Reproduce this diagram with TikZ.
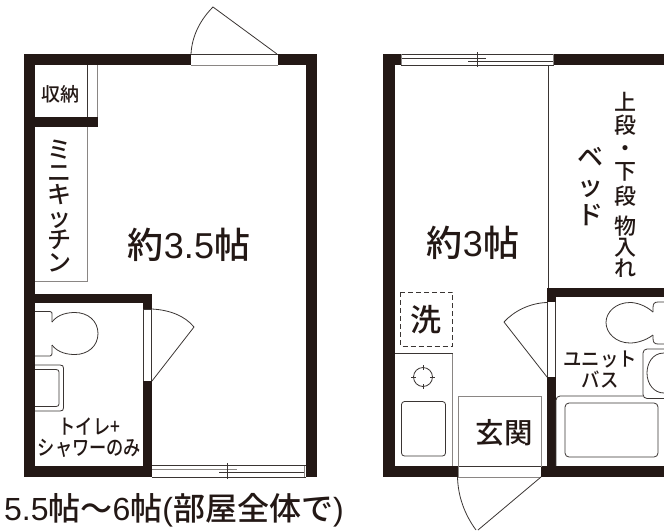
\documentclass[tikz,border=0pt]{standalone}
\usepackage{fontspec}
\setmainfont{Noto Sans CJK JP Medium}
\newfontfamily\lat{Liberation Sans}
\definecolor{wallc}{HTML}{231815}
\definecolor{linec}{HTML}{3A3533}
\definecolor{greyc}{HTML}{8A8684}
\tikzset{
  wall/.style={fill=wallc,draw=none},
  thin line/.style={draw=linec,line width=0.8pt},
  grey line/.style={draw=greyc,line width=1pt},
  dash line/.style={draw=linec,line width=0.8pt,dash pattern=on 5pt off 3pt},
  label/.style={text=wallc,inner sep=0pt,align=center},
}
\begin{document}
\begin{tikzpicture}[x=1pt,y=-1pt]
\useasboundingbox (0,0) rectangle (664,531);
% left unit walls
\fill[wall] (24,54) rectangle (191,65);
\fill[wall] (278,54) rectangle (317,65);
\fill[wall] (24,54) rectangle (35,477);
\fill[wall] (306,54) rectangle (317,477);
\fill[wall] (24,466) rectangle (152,477);
\fill[wall] (35,117) rectangle (98,127);
\fill[wall] (35,294) rectangle (152,303);
\fill[wall] (143,294) rectangle (152,309);
\fill[wall] (143,381) rectangle (152,477);
% top door left
\draw[thin line] (191,54) -- (278,54);
\draw[grey line] (191,65) -- (278,65);
\coordinate (ld1) at (191,54);
\coordinate (ld2) at (213,7);
\coordinate (ld3) at (277,54);
\draw[thin line] (ld1) .. controls (192,35) and (201,19) .. (ld2) -- (ld3);
% storage and kitchen
\draw[thin line] (87,65) -- (87,117);
\draw[grey line] (97.5,65) -- (97.5,117);
\draw[grey line] (87,127) -- (87,281) -- (35,281);
% bath door left
\draw[thin line] (143.5,309) -- (143.5,381);
\draw[thin line] (151.5,309) -- (151.5,381);
\draw[thin line] (143,309) -- (152,309);
\draw[thin line] (152,381) -- (194,327);
\draw[thin line] (152,309) .. controls (170,310) and (185,316) .. (194,327);
% toilet left
\draw[thin line] (35,311.5) -- (50,311.5) .. controls (52,311.5) and (52,313) .. (52,314) -- (52,322);
\draw[thin line] (35,356) -- (50,356) .. controls (52,356) and (52,354) .. (52,353) -- (52,345);
\draw[thin line] (52,322) .. controls (58,314) and (68,312.5) .. (75,312.5) .. controls (88,312.5) and (98,321) .. (98,333.5) .. controls (98,346) and (88,354.5) .. (75,354.5) .. controls (68,354.5) and (58,353) .. (52,345);
% shower pan left
\draw[thin line] (35,365) -- (60,365) .. controls (62.5,365) and (63.5,366) .. (63.5,368) -- (63.5,408) .. controls (63.5,410) and (62.5,411) .. (60,411) -- (35,411);
\draw[thin line] (35,369.5) -- (56,369.5) .. controls (58,369.5) and (59,370.5) .. (59,372) -- (59,404) .. controls (59,405.5) and (58,406.5) .. (56,406.5) -- (35,406.5);
% left window
\draw[thin line] (152,465.5) -- (306,465.5);
\draw[grey line] (152,469.3) -- (237,469.3);
\draw[thin line] (219,472.7) -- (305,472.7);
\draw[thin line] (152,477) -- (306,477);
\draw[grey line] (304.5,466) -- (304.5,477);
\draw[thin line] (227.7,463) -- (227.7,479);
% right unit walls
\fill[wall] (383,54) rectangle (401,65);
\fill[wall] (554,54) rectangle (664,65);
\fill[wall] (383,54) rectangle (395,477);
\fill[wall] (383,466) rectangle (458,477);
\fill[wall] (541,466) rectangle (664,477);
\fill[wall] (547,288) rectangle (664,297);
\fill[wall] (547,288) rectangle (556,302);
\fill[wall] (547,377) rectangle (556,477);
% right window
\draw[thin line] (401,54) -- (554,54);
\draw[thin line] (401,58.3) -- (486,58.3);
\draw[thin line] (468,61) -- (554,61);
\draw[thin line] (401,65) -- (554,65);
\draw[grey line] (401.5,54) -- (401.5,65);
\draw[grey line] (553.5,54) -- (553.5,65);
\draw[thin line] (477,52) -- (477,67);
% bed partition
\draw[thin line] (548.7,65) -- (548.7,288);
% bath door right
\draw[thin line] (547.5,302) -- (547.5,377);
\draw[thin line] (555.5,302) -- (555.5,377);
\draw[thin line] (547,377) -- (504,322);
\draw[thin line] (547,302.5) .. controls (530,303) and (514,311) .. (504,322);
% washer
\draw[dash line] (400.5,292) rectangle (452.5,346);
% kitchen right
\draw[thin line] (395,353.5) -- (452.5,353.5);
\draw[grey line] (452.5,353.5) -- (452.5,466);
\node[draw=linec,line width=0.8pt,circle,minimum size=19pt,inner sep=0pt] (burner) at (423,377) {};
\draw[thin line] (423,365) -- (423,370);
\draw[thin line] (423,384) -- (423,389);
\draw[thin line] (411,377) -- (416,377);
\draw[thin line] (430,377) -- (435,377);
\draw[thin line,rounded corners=3pt] (401.5,401.5) rectangle (445.5,456);
% genkan
\draw[grey line] (458.5,396.5) rectangle (541,466);
\draw[thin line] (458,466.5) -- (541,466.5);
\draw[grey line] (458,477) -- (541,477);
\draw[grey line] (458.5,466) -- (458.5,477);
% entrance door
\coordinate (rd1) at (541,477);
\coordinate (rd2) at (478,530);
\draw[thin line] (rd1) -- (rd2);
\draw[thin line] (457.5,477) .. controls (458,497) and (465,515) .. (476,530);
% unit bath
\draw[thin line,rounded corners=4pt] (643,396) -- (556,396) -- (556,466);
\draw[thin line,rounded corners=4pt] (565,403) rectangle (658,457);
\draw[thin line,rounded corners=4pt] (664,349) -- (643,349) -- (643,398.5) -- (664,398.5);
\draw[thin line] (664,353) .. controls (652,353) and (647,364) .. (647,373) .. controls (647,384) and (654,393) .. (664,393);
\draw[thin line] (664,302) -- (658,302) .. controls (654,302) and (653,304) .. (653,308) -- (653,312);
\draw[thin line] (664,344) -- (658,344) .. controls (654,344) and (653,342) .. (653,338) -- (653,335);
\draw[thin line] (653,312) .. controls (645,305) and (636,302.5) .. (630,302.5) .. controls (616,302.5) and (606,312) .. (606,322.5) .. controls (606,333) and (616,343) .. (630,343) .. controls (636,343) and (645,341) .. (653,335);
% labels
\node[label,font=\fontsize{19}{19}\selectfont] (lstore) at (60,94) {収納};
\node[label,font=\fontsize{24}{22.5}\selectfont] (lkit) at (59,206) {ミ\\ニ\\キ\\ッ\\チ\\ン};
\node[label,font=\fontsize{36}{36}\selectfont] (lroom) at (189,245) {約{\lat 3.5}帖};
\node[label,font=\fontsize{21}{21}\selectfont,transform shape,xscale=.82] (lshow) at (89.5,438) {トイレ+\\シャワーのみ};
\node[label,font=\fontsize{32}{32}\selectfont,anchor=west] (cap) at (4,510) {{\lat 5.5}帖～{\lat 6}帖{\lat (}部屋全体で{\lat )}};
\node[label,font=\fontsize{36}{36}\selectfont] (rroom) at (473,243) {約{\lat 3}帖};
\node[label,font=\fontsize{26}{29}\selectfont] (rbed) at (590,187) {ベ\\ッ\\ド};
\node[label,font=\fontsize{22}{21}\selectfont] (rstore) at (625,185) {上\\[2pt]段\\[2pt]・\\[2pt]下\\[4pt]段\\[9pt]物\\入\\れ};
\node[label,font=\fontsize{31}{31}\selectfont] (rwash) at (426,320) {洗};
\node[label,font=\fontsize{28.5}{28.5}\selectfont] (rgen) at (504,433) {玄関};
\node[label,font=\fontsize{20}{21}\selectfont,transform shape,xscale=.92] (rbath) at (600,370) {ユニット\\バス};
\end{tikzpicture}
\end{document}
